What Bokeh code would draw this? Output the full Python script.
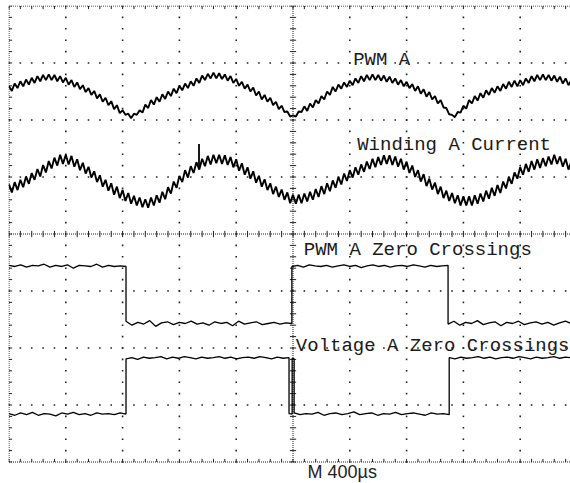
import numpy as np
from bokeh.plotting import figure
from bokeh.models import Label, Range1d
from bokeh.embed import file_html
from bokeh.resources import INLINE

# ---- data (screen divisions; time base 400 us / division) ----
SAMPLE_DIV = 0.05  # sample spacing of the analog traces, in divisions

pwm_a = [
    2.59, 2.51, 2.64, 2.56, 2.68, 2.59, 2.71, 2.62, 2.74, 2.65,
    2.77, 2.68, 2.79, 2.70, 2.80, 2.70, 2.79, 2.68, 2.77, 2.66,
    2.74, 2.62, 2.70, 2.58, 2.66, 2.54, 2.61, 2.49, 2.56, 2.44,
    2.51, 2.38, 2.45, 2.32, 2.39, 2.26, 2.33, 2.19, 2.26, 2.12,
    2.17, 2.09, 2.11, 2.03, 2.11, 2.09, 2.17, 2.13, 2.27, 2.21,
    2.35, 2.27, 2.40, 2.32, 2.45, 2.37, 2.50, 2.42, 2.55, 2.47,
    2.60, 2.52, 2.64, 2.56, 2.68, 2.60, 2.73, 2.65, 2.78, 2.70,
    2.81, 2.73, 2.83, 2.73, 2.82, 2.72, 2.80, 2.69, 2.77, 2.65,
    2.72, 2.60, 2.67, 2.55, 2.62, 2.50, 2.57, 2.43, 2.50, 2.36,
    2.44, 2.32, 2.39, 2.26, 2.32, 2.19, 2.25, 2.14, 2.15, 2.06,
    2.08, 2.06, 2.15, 2.14, 2.24, 2.16, 2.29, 2.22, 2.35, 2.29,
    2.42, 2.36, 2.50, 2.44, 2.58, 2.50, 2.62, 2.55, 2.66, 2.58,
    2.69, 2.61, 2.73, 2.65, 2.77, 2.68, 2.79, 2.70, 2.80, 2.70,
    2.79, 2.69, 2.78, 2.67, 2.76, 2.65, 2.73, 2.62, 2.70, 2.59,
    2.67, 2.56, 2.63, 2.51, 2.59, 2.46, 2.54, 2.41, 2.49, 2.36,
    2.42, 2.29, 2.35, 2.22, 2.21, 2.10, 2.09, 2.05, 2.14, 2.13,
    2.25, 2.20, 2.35, 2.29, 2.42, 2.34, 2.47, 2.39, 2.52, 2.44,
    2.56, 2.48, 2.59, 2.51, 2.63, 2.55, 2.67, 2.58, 2.69, 2.59,
    2.70, 2.61, 2.73, 2.65, 2.77, 2.68, 2.79, 2.70, 2.80, 2.70,
    2.79, 2.69, 2.78, 2.67, 2.76, 2.64, 2.73, 2.61, 2.70,
]

winding_a = [
    0.87, 0.73, 0.91, 0.77, 0.95, 0.82, 1.01, 0.88, 1.07, 0.95,
    1.14, 1.01, 1.21, 1.08, 1.28, 1.15, 1.34, 1.20, 1.39, 1.23,
    1.39, 1.22, 1.37, 1.18, 1.31, 1.12, 1.25, 1.06, 1.18, 0.99,
    1.10, 0.91, 1.03, 0.83, 0.95, 0.76, 0.89, 0.69, 0.83, 0.63,
    0.77, 0.58, 0.72, 0.53, 0.67, 0.50, 0.64, 0.47, 0.61, 0.46,
    0.64, 0.50, 0.68, 0.55, 0.74, 0.61, 0.82, 0.71, 0.92, 0.81,
    1.02, 0.91, 1.12, 0.99, 1.19, 1.07, 1.26, 1.13, 1.32, 1.19,
    1.37, 1.22, 1.39, 1.24, 1.39, 1.23, 1.38, 1.21, 1.35, 1.17,
    1.31, 1.11, 1.24, 1.04, 1.17, 0.97, 1.10, 0.90, 1.02, 0.83,
    0.96, 0.77, 0.89, 0.70, 0.83, 0.65, 0.78, 0.60, 0.73, 0.54,
    0.69, 0.53, 0.69, 0.54, 0.71, 0.57, 0.74, 0.60, 0.79, 0.65,
    0.84, 0.70, 0.89, 0.75, 0.94, 0.81, 1.00, 0.87, 1.06, 0.93,
    1.12, 0.99, 1.17, 1.04, 1.22, 1.09, 1.27, 1.14, 1.32, 1.17,
    1.35, 1.21, 1.38, 1.23, 1.38, 1.21, 1.36, 1.18, 1.32, 1.13,
    1.27, 1.07, 1.20, 1.00, 1.12, 0.92, 1.05, 0.84, 0.97, 0.78,
    0.90, 0.70, 0.83, 0.63, 0.76, 0.58, 0.72, 0.54, 0.68, 0.50,
    0.66, 0.50, 0.66, 0.50, 0.68, 0.53, 0.71, 0.57, 0.76, 0.62,
    0.81, 0.67, 0.86, 0.72, 0.92, 0.80, 1.00, 0.88, 1.08, 0.97,
    1.17, 1.04, 1.23, 1.09, 1.28, 1.13, 1.31, 1.16, 1.33, 1.19,
    1.36, 1.22, 1.39, 1.23, 1.36, 1.18, 1.32, 1.13, 1.27,
]

# single glitch on the current trace
glitch_x = [3.345, 3.345]
glitch_y = [1.18, 1.58]

# zero-crossing square waves: edge times (div) and levels between edges
pwm_zc_edges = [0.0, 2.06, 4.98, 7.73, 9.9]
pwm_zc_levels = [
    [-0.55, -0.57, -0.54, -0.58, -0.55, -0.56, -0.53, -0.58, -0.55, -0.57, -0.54,
     -0.60, -0.55, -0.56, -0.57, -0.53, -0.58, -0.55, -0.57, -0.56, -0.57],
    [-1.53, -1.60, -1.55, -1.58, -1.52, -1.62, -1.56, -1.54, -1.59, -1.55, -1.57,
     -1.53, -1.58, -1.56, -1.60, -1.54, -1.57, -1.55, -1.61, -1.53, -1.58, -1.56,
     -1.54, -1.59, -1.57, -1.55, -1.58, -1.56, -1.57],
    [-0.57, -0.55, -0.58, -0.54, -0.56, -0.57, -0.55, -0.58, -0.56, -0.54, -0.57,
     -0.55, -0.59, -0.56, -0.54, -0.57, -0.55, -0.58, -0.56, -0.55, -0.57, -0.54,
     -0.56, -0.58, -0.55, -0.57, -0.56, -0.55],
    [-1.58, -1.53, -1.60, -1.55, -1.57, -1.52, -1.59, -1.56, -1.54, -1.61, -1.55,
     -1.57, -1.53, -1.59, -1.56, -1.54, -1.58, -1.55, -1.60, -1.56, -1.53, -1.57],
]

volt_zc_edges = [0.0, 2.06, 4.93, 4.985, 5.02, 7.75, 9.9]
volt_zc_levels = [
    [-3.15, -3.18, -3.14, -3.17, -3.13, -3.18, -3.15, -3.16, -3.19, -3.14, -3.16,
     -3.13, -3.17, -3.15, -3.18, -3.14, -3.16, -3.15, -3.17, -3.14, -3.16],
    [-2.19, -2.17, -2.20, -2.16, -2.18, -2.17, -2.15, -2.19, -2.16, -2.18, -2.15,
     -2.17, -2.19, -2.16, -2.18, -2.17, -2.15, -2.18, -2.16, -2.19, -2.17, -2.16,
     -2.18, -2.15, -2.17, -2.19, -2.16, -2.18, -2.17],
    [-3.15, -3.16],
    [-2.18, -2.19],
    [-3.14, -3.17, -3.15, -3.16, -3.13, -3.18, -3.15, -3.14, -3.17, -3.15, -3.12,
     -3.17, -3.15, -3.14, -3.18, -3.15, -3.16, -3.13, -3.17, -3.15, -3.14, -3.16,
     -3.18, -3.14, -3.16, -3.15, -3.17],
    [-2.17, -2.19, -2.16, -2.18, -2.17, -2.15, -2.18, -2.16, -2.19, -2.17, -2.16,
     -2.18, -2.15, -2.17, -2.19, -2.16, -2.18, -2.17, -2.15, -2.18, -2.16, -2.17],
]

trace_labels = ["PWM A", "Winding A Current", "PWM A Zero Crossings", "Voltage A Zero Crossings"]
label_x = [6.06, 6.13, 5.19, 5.05]
label_y = [3.05, 1.56, -0.28, -1.96]
timebase_text = "M 400\u00b5s"

# ---- figure ----
W, H = 570, 483
LEFT, TOP = 8, 5
PX_X, PX_Y = 56.8, 57.0
frame_w = W - LEFT
frame_h = H - TOP
x0 = -0.5 / PX_X
y1 = 4 + 0.5 / PX_Y
p = figure(width=W, height=H,
           x_range=Range1d(x0, x0 + frame_w / PX_X),
           y_range=Range1d(y1 - frame_h / PX_Y, y1),
           toolbar_location=None, output_backend="svg",
           x_axis_location=None, y_axis_location=None,
           min_border_left=LEFT, min_border_right=0, min_border_top=TOP, min_border_bottom=0)
p.grid.visible = False
p.outline_line_color = None
p.background_fill_color = "white"
p.border_fill_color = "white"

GRID = "#222222"
# dotted graticule
gx, gy = [], []
for k in [-3, -2, -1, 1, 2, 3]:
    for j in range(0, 51):
        gx.append(j / 5); gy.append(k)
for k in [1, 2, 3, 4, 6, 7, 8, 9]:
    for j in range(-20, 21):
        gx.append(k); gy.append(j / 5)
p.scatter(gx, gy, marker="square", size=1.6, fill_color=GRID, line_color=None)

# borders and centre axes (fine dotted)
p.segment(x0=[0, 0, 0, 0, 5], y0=[4, -4, -4, 0, -4], x1=[10, 10, 0, 10, 5], y1=[4, -4, 4, 0, 4],
          line_color=GRID, line_width=1, line_dash="1 1")

tl = 0.055
sx0, sy0, sx1, sy1 = [], [], [], []
for j in range(0, 51):
    x = j / 5
    sx0 += [x, x, x]; sy0 += [4, -4, -tl]; sx1 += [x, x, x]; sy1 += [4 - tl, -4 + tl, tl]
for j in range(-20, 21):
    y = j / 5
    sx0 += [0, 5 - tl]; sy0 += [y, y]; sx1 += [tl, 5 + tl]; sy1 += [y, y]
p.segment(x0=sx0, y0=sy0, x1=sx1, y1=sy1, line_color=GRID, line_width=1)

# analog traces
xs = np.arange(len(pwm_a)) * SAMPLE_DIV
p.line(xs, pwm_a, line_color="black", line_width=1.9)
xs2 = np.arange(len(winding_a)) * SAMPLE_DIV
p.line(xs2, winding_a, line_color="black", line_width=1.9)
p.line(glitch_x, glitch_y, line_color="black", line_width=1.8)


def square(edges, levels):
    xx, yy = [], []
    for i, vals in enumerate(levels):
        xx.extend(np.linspace(edges[i], edges[i + 1], len(vals)))
        yy.extend(vals)
    return xx, yy


x3, y3 = square(pwm_zc_edges, pwm_zc_levels)
p.line(x3, y3, line_color="black", line_width=1.3)
x4, y4 = square(volt_zc_edges, volt_zc_levels)
p.line(x4, y4, line_color="black", line_width=1.3)

for t, lx, ly in zip(trace_labels, label_x, label_y):
    p.add_layout(Label(x=lx, y=ly, text=t, text_font="Liberation Mono", text_font_size="19px",
                       text_baseline="middle", text_color="#1a1a1a"))

p.add_layout(Label(x=5.255, y=-4.184, text=timebase_text, text_font="Liberation Sans",
                   text_font_size="18px", text_baseline="middle", text_color="#222222"))

open("out.html", "w").write(file_html(p, INLINE))
